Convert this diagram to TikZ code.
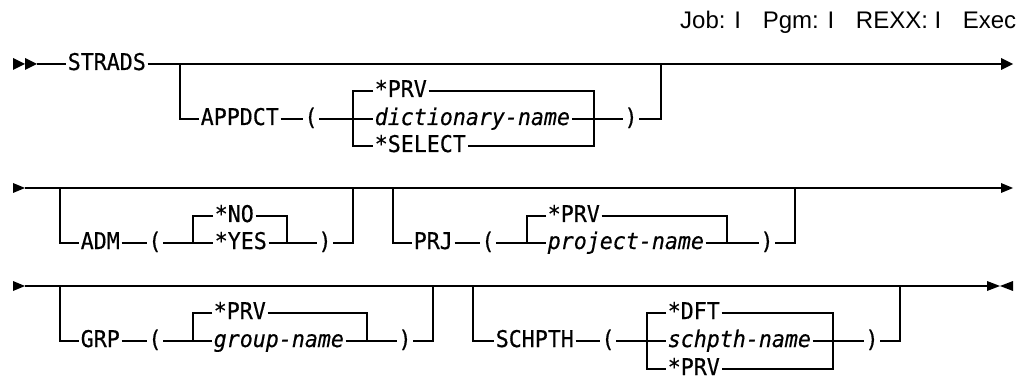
\documentclass[tikz,border=0pt]{standalone}
\usepackage{fontspec}
\newfontfamily\railfont[FakeStretch=0.94, FakeBold=0.5]{DejaVu Sans Mono}
\newfontfamily\hdrfont{Liberation Sans}
\tikzset{
  rail/.style={line width=1.5pt, line join=miter},
  kw/.style={inner xsep=1pt, inner ysep=0pt, text height=12pt, text depth=0pt,
    anchor=west, font=\railfont\fontsize{23}{26}\selectfont},
  var/.style={kw, font=\railfont\itshape\fontsize{23}{26}\selectfont},
  paren/.style={kw, anchor=center},
  hdr/.style={anchor=base east, inner sep=0pt, font=\hdrfont\fontsize{24}{28}\selectfont},
}
\newcommand\gap{\hspace{0.9em}}
\begin{document}
\begin{tikzpicture}[x=1pt, y=-1pt, rail]
\useasboundingbox (0,0) rectangle (1034,377);

\node[hdr] (hdr) at (1017,29) {Job: I\gap Pgm: I\gap REXX: I\gap Exec};

% ---------------- line 1: STRADS [APPDCT(...)]
\fill (13,58) -- (25,64) -- (13,70) -- cycle;
\fill (25,58) -- (37,64) -- (25,70) -- cycle;
\coordinate (r1s) at (37,64);
\fill (1001,58) -- (1013,64) -- (1001,70) -- cycle;
\coordinate (r1e) at (1001,64);

\node[kw] (strads) at (66,64) {STRADS};
\coordinate (b1l) at (180,64);
\coordinate (b1r) at (661,64);
\node[kw] (appdct) at (199,119) {APPDCT};
\node[paren] (lp1) at (311,119) {(};
\node[kw]  (prv1)  at (373,91)  {*PRV};
\node[var] (dict)  at (373,119) {dictionary-name};
\node[kw]  (sel1)  at (373,146) {*SELECT};
\node[paren] (rp1) at (631,119) {)};
\coordinate (k1a) at (353,91);  \coordinate (k1b) at (353,146);
\coordinate (k1c) at (594,91);  \coordinate (k1d) at (594,146);

\draw (r1s) -- (strads.west);
\draw (strads.east) -- (r1e);
\draw (b1l) |- (appdct.west);
\draw (appdct.east) -- (lp1.west);
\draw (lp1.east) -- (dict.west);
\draw (dict.east) -- (rp1.west);
\draw (rp1.east) -| (b1r);
\draw (prv1.west) -- (k1a) -- (k1b) -- (sel1.west);
\draw (prv1.east) -- (k1c) -- (k1d) -- (sel1.east);

% ---------------- line 2: [ADM(...)] [PRJ(...)]
\fill (13,183) -- (25,188) -- (13,193) -- cycle;
\coordinate (r2s) at (25,188);
\fill (1001,183) -- (1013,188) -- (1001,193) -- cycle;
\coordinate (r2e) at (1001,188);
\draw (r2s) -- (r2e);

\coordinate (b2l) at (60,188);
\coordinate (b2r) at (353,188);
\node[kw] (adm) at (79,243) {ADM};
\node[paren] (lp2) at (155,243) {(};
\node[kw] (no)  at (213,216) {*NO};
\node[kw] (yes) at (213,243) {*YES};
\node[paren] (rp2) at (325,243) {)};
\coordinate (k2a) at (193,216); \coordinate (k2b) at (193,243);
\coordinate (k2c) at (287,216); \coordinate (k2d) at (287,243);
\draw (b2l) |- (adm.west);
\draw (adm.east) -- (lp2.west);
\draw (lp2.east) -- (yes.west);
\draw (yes.east) -- (rp2.west);
\draw (rp2.east) -| (b2r);
\draw (no.west) -- (k2a) -- (k2b);
\draw (no.east) -- (k2c) -- (k2d);

\coordinate (b3l) at (393,188);
\coordinate (b3r) at (795,188);
\node[kw] (prj) at (412,243) {PRJ};
\node[paren] (lp3) at (488,243) {(};
\node[kw]  (prv3) at (546,216) {*PRV};
\node[var] (proj) at (546,243) {project-name};
\node[paren] (rp3) at (767,243) {)};
\coordinate (k3a) at (527,216); \coordinate (k3b) at (527,243);
\coordinate (k3c) at (727,216); \coordinate (k3d) at (727,243);
\draw (b3l) |- (prj.west);
\draw (prj.east) -- (lp3.west);
\draw (lp3.east) -- (proj.west);
\draw (proj.east) -- (rp3.west);
\draw (rp3.east) -| (b3r);
\draw (prv3.west) -- (k3a) -- (k3b);
\draw (prv3.east) -- (k3c) -- (k3d);

% ---------------- line 3: [GRP(...)] [SCHPTH(...)]
\fill (13,281) -- (25,286) -- (13,291) -- cycle;
\coordinate (r3s) at (25,286);
\fill (987,281) -- (1000,286) -- (987,291) -- cycle;
\fill (1013,281) -- (1000,286) -- (1013,291) -- cycle;
\coordinate (r3e) at (987,286);
\draw (r3s) -- (r3e);

\coordinate (b4l) at (60,286);
\coordinate (b4r) at (433,286);
\node[kw] (grp) at (79,341) {GRP};
\node[paren] (lp4) at (155,341) {(};
\node[kw]  (prv4) at (212,313) {*PRV};
\node[var] (grpn) at (212,341) {group-name};
\node[paren] (rp4) at (405,341) {)};
\coordinate (k4a) at (193,313); \coordinate (k4b) at (193,341);
\coordinate (k4c) at (367,313); \coordinate (k4d) at (367,341);
\draw (b4l) |- (grp.west);
\draw (grp.east) -- (lp4.west);
\draw (lp4.east) -- (grpn.west);
\draw (grpn.east) -- (rp4.west);
\draw (rp4.east) -| (b4r);
\draw (prv4.west) -- (k4a) -- (k4b);
\draw (prv4.east) -- (k4c) -- (k4d);

\coordinate (b5l) at (473,286);
\coordinate (b5r) at (900,286);
\node[kw] (schpth) at (494,341) {SCHPTH};
\node[paren] (lp5) at (608,341) {(};
\node[kw]  (dft)  at (666,313) {*DFT};
\node[var] (schn) at (666,341) {schpth-name};
\node[kw]  (prv5) at (666,369) {*PRV};
\node[paren] (rp5) at (872,341) {)};
\coordinate (k5a) at (647,313); \coordinate (k5b) at (647,369);
\coordinate (k5c) at (833,313); \coordinate (k5d) at (833,369);
\draw (b5l) |- (schpth.west);
\draw (schpth.east) -- (lp5.west);
\draw (lp5.east) -- (schn.west);
\draw (schn.east) -- (rp5.west);
\draw (rp5.east) -| (b5r);
\draw (dft.west) -- (k5a) -- (k5b) -- (prv5.west);
\draw (dft.east) -- (k5c) -- (k5d) -- (prv5.east);
\end{tikzpicture}
\end{document}
